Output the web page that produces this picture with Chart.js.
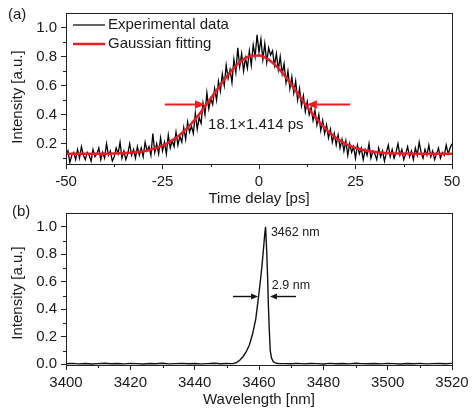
<!DOCTYPE html>
<html>
<head>
<meta charset="utf-8">
<script src="https://cdn.jsdelivr.net/npm/chart.js@4.4.1/dist/chart.umd.min.js"></script>
<style>
  html, body { margin: 0; padding: 0; background: #fff; }
  body { width: 474px; height: 414px; position: relative; overflow: hidden; }
  canvas { position: absolute; left: 0; }
  #pulse__chart { top: 0; }
  #spectrum__chart { top: 200px; }
</style>
</head>
<body>
<canvas id="pulse__chart" width="474" height="210"></canvas>
<canvas id="spectrum__chart" width="474" height="214"></canvas>
<script>
// (a) autocorrelation trace, one reading every 0.5 ps from -50 ps
const delayStart = -50;
const delayStep = 0.5;
const measured = [
  0.11, 0.15, 0.07, 0.12, 0.14, 0.09, 0.16, 0.10, 0.18, 0.12,
  0.09, 0.14, 0.12, 0.08, 0.16, 0.11, 0.13, 0.17, 0.09, 0.14,
  0.10, 0.20, 0.12, 0.15, 0.08, 0.11, 0.17, 0.13, 0.21, 0.10,
  0.15, 0.09, 0.13, 0.20, 0.12, 0.16, 0.10, 0.18, 0.12, 0.17,
  0.11, 0.21, 0.15, 0.18, 0.12, 0.27, 0.14, 0.20, 0.13, 0.24,
  0.15, 0.21, 0.13, 0.26, 0.17, 0.22, 0.18, 0.28, 0.19, 0.25,
  0.21, 0.31, 0.23, 0.35, 0.28, 0.32, 0.27, 0.41, 0.30, 0.38,
  0.34, 0.48, 0.40, 0.55, 0.44, 0.51, 0.47, 0.58, 0.50, 0.63,
  0.56, 0.68, 0.60, 0.74, 0.65, 0.71, 0.62, 0.78, 0.69, 0.86,
  0.73, 0.82, 0.70, 0.79, 0.72, 0.84, 0.74, 0.88, 0.80, 0.95,
  0.83, 0.92, 0.78, 0.89, 0.76, 0.86, 0.81, 0.84, 0.74, 0.82,
  0.71, 0.80, 0.68, 0.75, 0.62, 0.70, 0.58, 0.66, 0.55, 0.63,
  0.50, 0.58, 0.46, 0.53, 0.42, 0.49, 0.40, 0.45, 0.36, 0.43,
  0.33, 0.40, 0.29, 0.36, 0.27, 0.33, 0.24, 0.30, 0.21, 0.27,
  0.19, 0.26, 0.17, 0.23, 0.15, 0.22, 0.12, 0.20, 0.14, 0.18,
  0.10, 0.19, 0.13, 0.17, 0.09, 0.16, 0.12, 0.20, 0.10, 0.15,
  0.13, 0.09, 0.17, 0.11, 0.15, 0.08, 0.14, 0.19, 0.11, 0.16,
  0.10, 0.14, 0.20, 0.12, 0.16, 0.09, 0.13, 0.18, 0.11, 0.15,
  0.09, 0.17, 0.12, 0.21, 0.14, 0.10, 0.16, 0.12, 0.19, 0.11,
  0.15, 0.09, 0.13, 0.17, 0.10, 0.14, 0.12, 0.19, 0.13, 0.17,
  0.20
];
const fitDelay = [
  -50, -47.5, -45, -42.5, -40, -37.5, -35, -32.5, -30, -27.5,
  -25, -22.5, -20, -17.5, -15, -12.5, -10, -7.5, -5, -2.5,
  0, 2.5, 5, 7.5, 10, 12.5, 15, 17.5, 20, 22.5,
  25, 27.5, 30, 32.5, 35, 37.5, 40, 42.5, 45, 47.5, 50
];
const fitted = [
  0.130, 0.130, 0.130, 0.130, 0.131, 0.132, 0.135, 0.140, 0.148, 0.163,
  0.187, 0.223, 0.273, 0.339, 0.420, 0.511, 0.605, 0.692, 0.761, 0.802,
  0.808, 0.779, 0.720, 0.638, 0.545, 0.452, 0.367, 0.295, 0.239, 0.198,
  0.171, 0.153, 0.142, 0.136, 0.133, 0.132, 0.131, 0.130, 0.130, 0.130, 0.130
];
const delayTicks = [-50, -25, 0, 25, 50];
const delayMinor = [-37.5, -12.5, 12.5, 37.5];
const pulseTicks = [0.2, 0.4, 0.6, 0.8, 1.0];
const pulseMinor = [0.1, 0.3, 0.5, 0.7, 0.9];

// (b) optical spectrum
const wavelength = [
  3400, 3402, 3404, 3406, 3408, 3410, 3412, 3414, 3416, 3418,
  3420, 3422, 3424, 3426, 3428, 3430, 3432, 3434, 3436, 3438,
  3440, 3442, 3444, 3446, 3448, 3450, 3451,
  3452, 3453, 3454, 3455, 3456, 3457, 3458, 3459, 3459.8, 3460.4,
  3460.9, 3461.4, 3461.8, 3462.05, 3462.4, 3462.7, 3462.9, 3463.2, 3463.5, 3463.9,
  3464.4, 3465, 3466, 3468,
  3470, 3472, 3474, 3476, 3478, 3480, 3482, 3484, 3486, 3488,
  3490, 3492, 3494, 3496, 3498, 3500, 3502, 3504, 3506, 3508,
  3510, 3512, 3514, 3516, 3518, 3520
];
const spectrum = [
  0.004, 0.007, 0.003, 0.006, 0.002, 0.005, 0.008, 0.004, 0.006, 0.003,
  0.007, 0.005, 0.002, 0.006, 0.004, 0.008, 0.003, 0.005, 0.007, 0.004,
  0.006, 0.003, 0.005, 0.008, 0.004, 0.006, 0.005,
  0.006, 0.012, 0.030, 0.055, 0.090, 0.140, 0.220, 0.330, 0.480, 0.600,
  0.710, 0.840, 0.950, 1.000, 0.820, 0.620, 0.440, 0.250, 0.100, 0.045,
  0.020, 0.010, 0.006, 0.005,
  0.004, 0.007, 0.003, 0.006, 0.005, 0.002, 0.007, 0.004, 0.006, 0.003,
  0.008, 0.005, 0.004, 0.006, 0.003, 0.007, 0.005, 0.002, 0.006, 0.004,
  0.007, 0.003, 0.005, 0.006, 0.004, 0.007
];
const waveTicks = [3400, 3420, 3440, 3460, 3480, 3500, 3520];
const waveMinor = [3410, 3430, 3450, 3470, 3490, 3510];
const specTicks = [0.0, 0.2, 0.4, 0.6, 0.8, 1.0];
const specMinor = [0.1, 0.3, 0.5, 0.7, 0.9];

const FONT = '"Liberation Sans", Arial, sans-serif';
const INK = '#1a1a1a';
const RED = 'rgb(236, 28, 36)';

Chart.defaults.font.family = FONT;
Chart.defaults.font.size = 15;
Chart.defaults.color = INK;

// frame, minor ticks, panel letter, y title, arrows and notes
const decor = {
  id: 'decor',
  afterDatasetsDraw(chart, args, o) {
    const { ctx, scales: { x, y } } = chart;
    ctx.save();
    (o.arrows || []).forEach(ar => {
      const x0 = x.getPixelForValue(ar.from);
      const x1 = x.getPixelForValue(ar.to);
      const py = Math.round(y.getPixelForValue(ar.at)) + 0.5;
      const dir = Math.sign(x1 - x0);
      ctx.strokeStyle = ar.color;
      ctx.fillStyle = ar.color;
      ctx.lineWidth = ar.width;
      ctx.beginPath();
      ctx.moveTo(x0, py);
      ctx.lineTo(x1 - dir * ar.head, py);
      ctx.stroke();
      ctx.beginPath();
      ctx.moveTo(x1, py);
      ctx.lineTo(x1 - dir * ar.head, py - ar.head * 0.42);
      ctx.lineTo(x1 - dir * ar.head, py + ar.head * 0.42);
      ctx.closePath();
      ctx.fill();
    });
    ctx.fillStyle = INK;
    ctx.textBaseline = 'middle';
    ctx.textAlign = 'left';
    (o.notes || []).forEach(n => {
      ctx.font = n.size + 'px ' + FONT;
      ctx.fillText(n.text, x.getPixelForValue(n.x), y.getPixelForValue(n.y));
    });
    ctx.restore();
  },
  afterDraw(chart, args, o) {
    const { ctx, chartArea: a, scales: { x, y } } = chart;
    ctx.save();
    ctx.strokeStyle = '#222';
    ctx.lineWidth = 1;
    ctx.beginPath();
    o.minorX.forEach(v => {
      const p = Math.round(x.getPixelForValue(v)) + 0.5;
      ctx.moveTo(p, a.bottom);
      ctx.lineTo(p, a.bottom + 3);
    });
    o.minorY.forEach(v => {
      const p = Math.round(y.getPixelForValue(v)) + 0.5;
      ctx.moveTo(a.left, p);
      ctx.lineTo(a.left - 3, p);
    });
    ctx.stroke();
    ctx.strokeRect(Math.round(a.left) + 0.5, Math.round(a.top) + 0.5,
                   Math.round(a.width), Math.round(a.height));

    ctx.fillStyle = INK;
    ctx.font = '15px ' + FONT;
    ctx.textBaseline = 'middle';
    ctx.textAlign = 'left';
    ctx.fillText(o.letter, o.letterAt[0], o.letterAt[1]);

    // legend inside the frame
    (o.legend || []).forEach((item, i) => {
      const ly = a.top + 12 + i * 19;
      ctx.strokeStyle = item.color;
      ctx.lineWidth = item.width;
      ctx.beginPath();
      ctx.moveTo(a.left + 7, ly);
      ctx.lineTo(a.left + 39, ly);
      ctx.stroke();
      ctx.fillText(item.text, a.left + 42, ly);
    });

    ctx.translate(o.yTitleAt[0], o.yTitleAt[1]);
    ctx.rotate(-Math.PI / 2);
    ctx.textAlign = 'center';
    ctx.fillText(o.yTitle, 0, 0);
    ctx.restore();
  }
};

function axes(xr, xt, xTitle, yr, yt) {
  return {
    x: {
      type: 'linear', min: xr[0], max: xr[1],
      afterBuildTicks: s => { s.ticks = xt.map(v => ({ value: v })); },
      afterFit: s => { s.height = 44; },
      ticks: { padding: 4, maxRotation: 0, autoSkip: false, color: INK, callback: v => String(v) },
      grid: { drawOnChartArea: false, tickLength: 5, tickColor: '#222' },
      border: { color: '#222' },
      title: { display: true, text: xTitle, padding: 0, color: INK }
    },
    y: {
      type: 'linear', min: yr[0], max: yr[1],
      afterBuildTicks: s => { s.ticks = yt.map(v => ({ value: v })); },
      afterFit: s => { s.width = 66; },
      ticks: { padding: 4, color: INK, callback: v => v.toFixed(1) },
      grid: { drawOnChartArea: false, tickLength: 5, tickColor: '#222' },
      border: { color: '#222' }
    }
  };
}

const pulseConfig = {
  type: 'line',
  data: {
    datasets: [{
      label: 'Gaussian fitting',
      data: fitDelay.map((t, i) => ({ x: t, y: fitted[i] })),
      borderColor: RED,
      borderWidth: 2.5,
      pointRadius: 0,
      cubicInterpolationMode: 'monotone',
      order: 0
    }, {
      label: 'Experimental data',
      data: measured.map((v, i) => ({ x: delayStart + i * delayStep, y: v })),
      borderColor: '#000',
      borderWidth: 1.3,
      pointRadius: 0,
      tension: 0,
      order: 1
    }]
  },
  options: {
    responsive: false,
    animation: false,
    layout: { padding: { top: 10, right: 22, bottom: 2, left: 0 } },
    scales: axes([-50, 50], delayTicks, 'Time delay [ps]', [0.06, 1.1], pulseTicks),
    plugins: {
      legend: { display: false },
      tooltip: { enabled: false },
      decor: {
        minorX: delayMinor, minorY: pulseMinor,
        letter: '(a)', letterAt: [8, 15],
        yTitle: 'Intensity [a.u.]', yTitleAt: [18, 97],
        legend: [
          { text: 'Experimental data', color: '#000', width: 1.2 },
          { text: 'Gaussian fitting', color: RED, width: 2.5 }
        ],
        arrows: [
          { from: -24.4, to: -14.0, at: 0.471, color: RED, width: 2, head: 10 },
          { from: 23.6, to: 12.4, at: 0.471, color: RED, width: 2, head: 10 }
        ],
        notes: [{ text: '18.1\u00d71.414 ps', x: -13.2, y: 0.33, size: 15 }]
      }
    }
  },
  plugins: [decor]
};

const spectrumConfig = {
  type: 'line',
  data: {
    datasets: [{
      label: 'Spectrum',
      data: wavelength.map((w, i) => ({ x: w, y: spectrum[i] })),
      borderColor: '#111',
      borderWidth: 1.4,
      pointRadius: 0,
      tension: 0
    }]
  },
  options: {
    responsive: false,
    animation: false,
    layout: { padding: { top: 11, right: 22, bottom: 5, left: 0 } },
    scales: axes([3400, 3520], waveTicks, 'Wavelength [nm]', [-0.005, 1.1], specTicks),
    plugins: {
      legend: { display: false },
      tooltip: { enabled: false },
      decor: {
        minorX: waveMinor, minorY: specMinor,
        letter: '(b)', letterAt: [12, 12],
        yTitle: 'Intensity [a.u.]', yTitleAt: [18, 93],
        arrows: [
          { from: 3451.9, to: 3459.7, at: 0.5, color: '#111', width: 1.4, head: 7 },
          { from: 3471.5, to: 3463.4, at: 0.5, color: '#111', width: 1.4, head: 7 }
        ],
        notes: [
          { text: '3462 nm', x: 3463.7, y: 0.957, size: 12.5 },
          { text: '2.9 nm', x: 3464.0, y: 0.573, size: 12.5 }
        ]
      }
    }
  },
  plugins: [decor]
};

new Chart(document.getElementById('pulse__chart'), pulseConfig);
new Chart(document.getElementById('spectrum__chart'), spectrumConfig);
</script>
</body>
</html>
